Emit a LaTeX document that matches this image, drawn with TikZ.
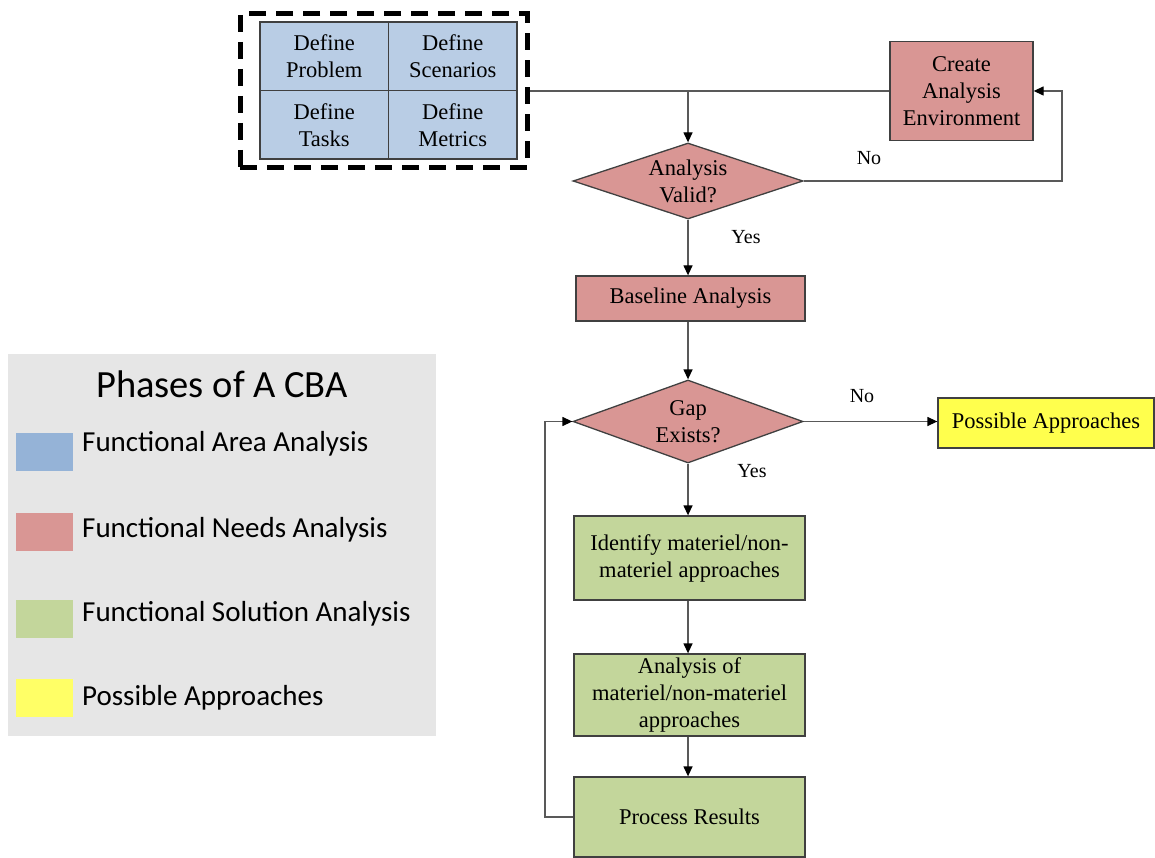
\documentclass[tikz,border=0pt]{standalone}
\usepackage{fontspec}
\setmainfont{Liberation Serif}
\newfontfamily\legendfont{Carlito}
\usetikzlibrary{shapes.geometric,arrows.meta}
\definecolor{fablue}{HTML}{B9CDE5}
\definecolor{legblue}{HTML}{95B3D7}
\definecolor{needred}{HTML}{D99694}
\definecolor{solgreen}{HTML}{C3D69B}
\definecolor{appyellow}{HTML}{FFFF4D}
\definecolor{legyellow}{HTML}{FFFF66}
\definecolor{leggrey}{HTML}{E6E6E6}
\definecolor{edge}{HTML}{404040}
\definecolor{wire}{HTML}{595959}
\tikzset{
  box/.style={draw=edge, line width=1.3pt, rectangle, inner sep=0pt, align=center,
    font=\fontsize{22.5}{27}\selectfont},
  decide/.style={draw=edge, line width=1.3pt, diamond, aspect=3, inner sep=0pt, align=center,
    fill=needred, font=\fontsize{22.5}{27}\selectfont},
  cell/.style={box, fill=fablue, minimum width=128.5pt, minimum height=68.5pt},
  flow/.style={draw=wire, line width=1.3pt},
  arr/.style={flow, -{Triangle[length=10pt,width=9pt,fill=black,color=black]}},
  lbl/.style={font=\fontsize{20}{24}\selectfont},
  swatch/.style={rectangle, minimum width=57pt, minimum height=38pt, inner sep=0pt},
  legtext/.style={anchor=west, inner sep=0pt, font=\legendfont\fontsize{29}{34}\selectfont}
}
\begin{document}
\begin{tikzpicture}[x=1pt, y=-1pt]
\useasboundingbox (0,0) rectangle (1155,858);

% functional area analysis: four definition cells inside a dashed frame
\node[cell] (prob) at (324.25,56.25) {Define\\Problem};
\node[cell] (scen) at (452.75,56.25) {Define\\Scenarios};
\node[cell] (task) at (324.25,124.75) {Define\\Tasks};
\node[cell] (metr) at (452.75,124.75) {Define\\Metrics};
\node[draw=black, line width=5pt, dash pattern=on 17pt off 10pt, rectangle,
      minimum width=287pt, minimum height=154pt, inner sep=0pt] (fa) at (383.5,91) {};

% needs analysis
\node[box, fill=needred, minimum width=143pt, minimum height=99pt] (create) at (961.5,91) {Create\\Analysis\\Environment};
\node[decide, minimum width=230pt, minimum height=76pt] (valid) at (688,181) {Analysis\\Valid?};
\node[box, fill=needred, minimum width=229pt, minimum height=45pt] (base) at (690.5,298.5) {Baseline Analysis};
\node[decide, minimum width=230pt, minimum height=83pt] (gap) at (688,421.5) {Gap\\Exists?};
\node[box, fill=appyellow, minimum width=216pt, minimum height=50pt] (poss) at (1046,423) {Possible Approaches};

% solution analysis
\node[box, fill=solgreen, minimum width=231pt, minimum height=84pt] (ident) at (689.5,558) {Identify materiel/non-\\materiel approaches};
\node[box, fill=solgreen, minimum width=231pt, minimum height=82pt] (anal) at (689.5,695) {Analysis of\\materiel/non-materiel\\approaches};
\node[box, fill=solgreen, minimum width=231pt, minimum height=80pt] (proc) at (689.5,817) {Process Results};

% connectors
\coordinate (join) at (688,91);
\coordinate (noturn) at (1062,181);
\coordinate (back) at (545,817);
\draw[flow] (fa.east) -- (create.west);
\draw[arr] (join) -- (valid.north);
\draw[arr] (valid.east) -- (noturn) |- (create.east);
\draw[arr] (valid.south) -- (base.north -| valid.south);
\draw[arr] (base.south -| valid.south) -- (gap.north);
\draw[arr] (gap.east) -- (poss.west |- gap.east);
\draw[arr] (gap.south) -- (ident.north -| gap.south);
\draw[arr] (ident.south -| gap.south) -- (anal.north -| gap.south);
\draw[arr] (anal.south -| gap.south) -- (proc.north -| gap.south);
\draw[arr] (proc.west) -- (back) |- (gap.west);

\node[lbl] (no1) at (869,158) {No};
\node[lbl] (yes1) at (746,237) {Yes};
\node[lbl] (no2) at (862,396) {No};
\node[lbl] (yes2) at (752,471) {Yes};

% legend
\node[rectangle, fill=leggrey, minimum width=428pt, minimum height=382pt, inner sep=0pt] (legend) at (222,545) {};
\node[font=\legendfont\fontsize{38.5}{44}\selectfont, inner sep=0pt] (legtitle) at (222,384) {Phases of A CBA};
\node[swatch, fill=legblue] (swb) at (44.5,452) {};
\node[swatch, fill=needred] (swr) at (44.5,531.5) {};
\node[swatch, fill=solgreen] (swg) at (44.5,619) {};
\node[swatch, fill=legyellow] (swy) at (44.5,697.5) {};
\node[legtext] (tb) at (82,444) {Functional Area Analysis};
\node[legtext] (tr) at (82,530) {Functional Needs Analysis};
\node[legtext] (tg) at (82,614) {Functional Solution Analysis};
\node[legtext] (ty) at (82,698) {Possible Approaches};
\end{tikzpicture}
\end{document}
